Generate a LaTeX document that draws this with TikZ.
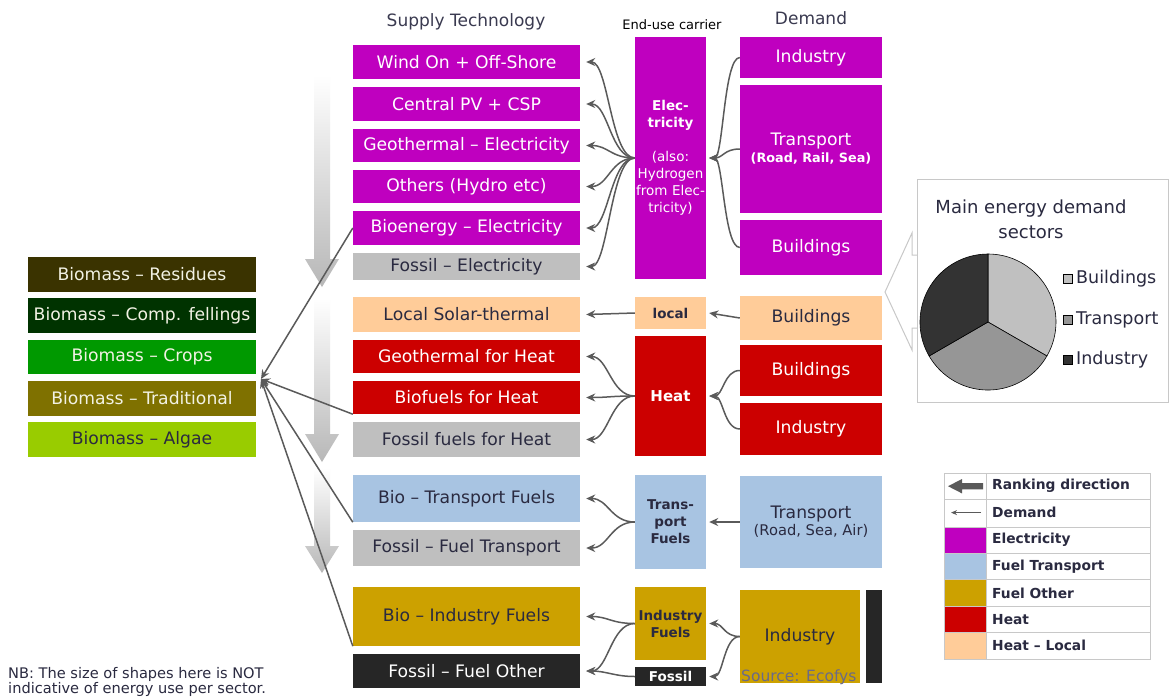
\documentclass[tikz,border=0pt]{standalone}
\usepackage{fontspec}
\setmainfont{DejaVu Sans}
\usetikzlibrary{arrows.meta,calc}
\definecolor{mag}{HTML}{BF00BF}
\definecolor{fgray}{HTML}{BFBFBF}
\definecolor{peach}{HTML}{FFCC99}
\definecolor{hred}{HTML}{CC0000}
\definecolor{tblue}{HTML}{A8C4E2}
\definecolor{gold}{HTML}{CCA100}
\definecolor{dark}{HTML}{262626}
\definecolor{bres}{HTML}{3A3300}
\definecolor{bcomp}{HTML}{003300}
\definecolor{bcrop}{HTML}{009900}
\definecolor{btrad}{HTML}{7F7100}
\definecolor{balg}{HTML}{99CC00}
\definecolor{txt}{HTML}{2A2A40}
\definecolor{hdr}{HTML}{3A3A50}
\definecolor{arrc}{HTML}{5A5A5A}
\definecolor{srcc}{HTML}{6A6A88}
\definecolor{cream}{HTML}{F2F2E4}
\definecolor{pieA}{HTML}{C0C0C0}
\definecolor{pieB}{HTML}{969696}
\definecolor{pieC}{HTML}{333333}
\definecolor{frame}{HTML}{C8C8C8}
\tikzset{
  box/.style={rectangle, inner sep=0pt, align=center, text=white},
  sup/.style={box, minimum width=227pt, font=\fontsize{17.2}{17}\selectfont},
  car/.style={box, minimum width=71pt, text width=71pt, font=\fontsize{13.5}{17}\selectfont\bfseries},
  dem/.style={box, minimum width=142pt, font=\fontsize{17.2}{17}\selectfont},
  bio/.style={box, minimum width=228pt, minimum height=35pt, text=cream, font=\fontsize{17.2}{17}\selectfont},
  arr/.style={draw=arrc, line width=1.5pt, -{Stealth[length=9pt,width=8pt]}},
  rank/.style={top color=white, bottom color=black!28, draw=none},
  legtxt/.style={anchor=west, inner sep=0pt, text=txt, font=\fontsize{13.8}{15}\selectfont\bfseries},
  pietxt/.style={anchor=west, inner sep=0pt, text=txt, font=\fontsize{17.5}{20}\selectfont},
  hd/.style={inner sep=0pt, text=hdr, font=\fontsize{17}{20}\selectfont}
}
\begin{document}
\begin{tikzpicture}[x=1pt,y=-1pt]
\fill[white] (0,0) rectangle (1172,697);
\useasboundingbox (0,0) rectangle (1172,697);

% ranking direction arrows
\shade[rank] (314,75) -- (330,75) -- (330,259) -- (339,259) -- (322,287) -- (305,259) -- (314,259) -- cycle;
\shade[rank] (314,298) -- (330,298) -- (330,434) -- (339,434) -- (322,462) -- (305,434) -- (314,434) -- cycle;
\shade[rank] (314,468) -- (330,468) -- (330,546) -- (339,546) -- (322,573) -- (305,546) -- (314,546) -- cycle;

% headers
\node[hd] (h1) at (466,22) {Supply Technology};
\node[inner sep=0pt, text=black, font=\fontsize{13}{15}\selectfont] (h2) at (672,25) {End-use carrier};
\node[hd] (h3) at (811,18) {Demand};

% supply technologies
\node[sup, fill=mag, minimum height=34pt] (s1) at (466.5,62) {Wind On + Off-Shore};
\node[sup, fill=mag, minimum height=34pt] (s2) at (466.5,104) {Central PV + CSP};
\node[sup, fill=mag, minimum height=33pt] (s3) at (466.5,145.5) {Geothermal – Electricity};
\node[sup, fill=mag, minimum height=33pt] (s4) at (466.5,186.5) {Others (Hydro etc)};
\node[sup, fill=mag, minimum height=34pt] (s5) at (466.5,228) {Bioenergy – Electricity};
\node[sup, fill=fgray, text=txt, minimum height=27pt] (s6) at (466.5,266.5) {Fossil – Electricity};
\node[sup, fill=peach, text=txt, minimum height=35pt] (s7) at (466.5,314.5) {Local Solar-thermal};
\node[sup, fill=hred, minimum height=33pt] (s8) at (466.5,356.5) {Geothermal for Heat};
\node[sup, fill=hred, minimum height=33pt] (s9) at (466.5,397.5) {Biofuels for Heat};
\node[sup, fill=fgray, text=txt, minimum height=35pt] (s10) at (466.5,439.5) {Fossil fuels for Heat};
\node[sup, fill=tblue, text=txt, minimum height=47pt] (s11) at (466.5,498.5) {Bio – Transport Fuels};
\node[sup, fill=fgray, text=txt, minimum height=36pt] (s12) at (466.5,548) {Fossil – Fuel Transport};
\node[sup, fill=gold, text=txt, minimum height=59pt] (s13) at (466.5,616.5) {Bio – Industry Fuels};
\node[sup, fill=dark, minimum height=34pt] (s14) at (466.5,671) {Fossil – Fuel Other};

% end-use carriers
\node[car, fill=mag, minimum height=242pt] (c1) at (670.5,158) {Elec-\\tricity\\[17pt]\mdseries (also:\\Hydrogen\\from Elec-\\tricity)};
\node[car, fill=peach, text=txt, minimum height=32pt] (c2) at (670.5,313) {local};
\node[car, fill=hred, minimum height=120pt, font=\fontsize{15}{17}\selectfont\bfseries] (c3) at (670.5,396) {Heat};
\node[car, fill=tblue, text=txt, minimum height=94pt] (c4) at (670.5,522) {Trans-\\port\\Fuels};
\node[car, fill=gold, text=txt, minimum height=73pt] (c5) at (670.5,623.5) {Industry\\Fuels};
\node[car, fill=dark, minimum height=19pt] (c6) at (670.5,676.5) {Fossil};

% demand
\node[dem, fill=mag, minimum height=41pt] (d1) at (811,57.5) {Industry};
\node[dem, fill=mag, minimum height=128pt] (d2) at (811,149) {Transport\\{\fontsize{12.8}{15}\selectfont\bfseries (Road, Rail, Sea)}};
\node[dem, fill=mag, minimum height=55pt] (d3) at (811,247.5) {Buildings};
\node[dem, fill=peach, text=txt, minimum height=44pt] (d4) at (811,318) {Buildings};
\node[dem, fill=hred, minimum height=51pt] (d5) at (811,370.5) {Buildings};
\node[dem, fill=hred, minimum height=52pt] (d6) at (811,429) {Industry};
\node[dem, fill=tblue, text=txt, minimum height=92pt] (d7) at (811,522) {Transport\\{\fontsize{14.7}{17}\selectfont (Road, Sea, Air)}};
\node[dem, fill=gold, text=txt, minimum width=120pt, minimum height=93pt] (d8) at (800,636.5) {Industry};
\node[box, fill=dark, minimum width=16pt, minimum height=93pt] (d9) at (874,636.5) {};
\node[anchor=west, inner sep=0pt, text=srcc, font=\fontsize{15.5}{17}\selectfont] (src) at (741,677) {Source: Ecofys};

% biomass
\node[bio, fill=bres] (b1) at (142,274.5) {Biomass – Residues};
\node[bio, fill=bcomp] (b2) at (142,315.5) {Biomass – Comp. fellings};
\node[bio, fill=bcrop, minimum height=34pt] (b3) at (142,357) {Biomass – Crops};
\node[bio, fill=btrad] (b4) at (142,398.5) {Biomass – Traditional};
\node[bio, fill=balg, text=txt] (b5) at (142,439.5) {Biomass – Algae};

% fans: carrier -> supply
\foreach \t in {s1,s2,s3,s4,s5,s6}
  \draw[arr] (c1.west) .. controls +(-24,0) and +(22,0) .. ([xshift=6pt]\t.east);
\foreach \t in {s8,s9,s10}
  \draw[arr] (c3.west) .. controls +(-24,0) and +(22,0) .. ([xshift=6pt]\t.east);
\foreach \t in {s11,s12}
  \draw[arr] (c4.west) .. controls +(-24,0) and +(22,0) .. ([xshift=6pt]\t.east);
\foreach \t in {s13,s14}
  \draw[arr] (c5.west) .. controls +(-24,0) and +(22,0) .. ([xshift=6pt]\t.east);
\draw[arr] (c6.west) .. controls +(-20,0) and +(20,0) .. ([xshift=6pt]s14.east);
\draw[arr] (c2.west) -- ([xshift=6pt]s7.east);

% fans: demand -> carrier
\foreach \t in {d1,d2,d3}
  \draw[arr] (\t.west) .. controls +(-16,0) and +(14,0) .. ([xshift=3pt]c1.east);
\foreach \t in {d5,d6}
  \draw[arr] (\t.west) .. controls +(-16,0) and +(14,0) .. ([xshift=3pt]c3.east);
\draw[arr] (d7.west) -- ([xshift=3pt]c4.east);
\foreach \t in {c5,c6}
  \draw[arr] (d8.west) .. controls +(-16,0) and +(14,0) .. ([xshift=3pt]\t.east);
\draw[arr] (d4.west) -- ([xshift=3pt]c2.east);

% biomass links
\coordinate (bm) at (261,379);
\foreach \t in {s5.west, s9.south west, s11.south west, s13.south west}
  \draw[arr] (\t) -- (bm);

% pie panel
\draw[frame, line width=1pt] (917,179) rectangle (1168,402);
\draw[frame, line width=1pt] (917,255) -- (912,255) -- (912,233) -- (885,292) -- (912,350) -- (912,328) -- (917,328);
\node[inner sep=0pt, text=txt, align=center, font=\fontsize{18}{25}\selectfont] (pt) at (1031,219.5) {Main energy demand\\sectors};
\coordinate (pc) at (988,322);
\filldraw[fill=pieA, draw=black, line width=0.6pt] (pc) -- (988,254) arc[start angle=90, end angle=-30, radius=68pt] -- cycle;
\filldraw[fill=pieB, draw=black, line width=0.6pt] (pc) -- (1046.89,356) arc[start angle=-30, end angle=-150, radius=68pt] -- cycle;
\filldraw[fill=pieC, draw=black, line width=0.6pt] (pc) -- (929.11,356) arc[start angle=210, end angle=90, radius=68pt] -- cycle;
\node[draw=black, fill=pieA, minimum size=9pt, inner sep=0pt] (q1) at (1068,279) {};
\node[draw=black, fill=pieB, minimum size=9pt, inner sep=0pt] (q2) at (1068,320) {};
\node[draw=black, fill=pieC, minimum size=9pt, inner sep=0pt] (q3) at (1068,360) {};
\node[pietxt] (l1) at (1076,279) {Buildings};
\node[pietxt] (l2) at (1076,320) {Transport};
\node[pietxt] (l3) at (1076,360) {Industry};

% legend table
\fill[mag]   (944,526.9) rectangle (986,553.3);
\fill[tblue] (944,553.3) rectangle (986,579.7);
\fill[gold]  (944,579.7) rectangle (986,606.1);
\fill[hred]  (944,606.1) rectangle (986,632.5);
\fill[peach] (944,632.5) rectangle (986,658.9);
\draw[frame, line width=0.8pt] (944,473) rectangle (1150,658.9);
\draw[frame, line width=0.8pt] (986,473) -- (986,658.9);
\foreach \yy in {499.4,526.9,553.3,579.7,606.1,632.5}
  \draw[frame, line width=0.8pt] (944,\yy) -- (1150,\yy);
\fill[arrc] (948,486.2) -- (962,479) -- (962,483) -- (983,483) -- (983,489.4) -- (962,489.4) -- (962,493.4) -- cycle;
\draw[arrc, line width=1pt, -{Stealth[length=6pt,width=5pt]}] (981,512.6) -- (951,512.6);
\node[legtxt] (g1) at (992,486.2) {Ranking direction};
\node[legtxt] (g2) at (992,512.6) {Demand};
\node[legtxt] (g3) at (992,540.1) {Electricity};
\node[legtxt] (g4) at (992,566.5) {Fuel Transport};
\node[legtxt] (g5) at (992,592.9) {Fuel Other};
\node[legtxt] (g6) at (992,619.3) {Heat};
\node[legtxt] (g7) at (992,645.7) {Heat – Local};

% note
\node[anchor=north west, inner sep=0pt, align=left, text=txt, font=\fontsize{14.6}{14}\selectfont] (nb) at (8,667) {NB: The size of shapes here is NOT\\indicative of energy use per sector.};
\end{tikzpicture}
\end{document}
